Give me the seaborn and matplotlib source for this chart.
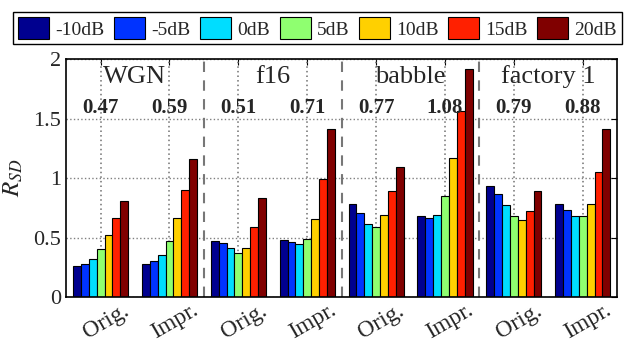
import pandas as pd
import matplotlib
matplotlib.use('Agg')
import matplotlib.pyplot as plt
import seaborn as sns

# Values
snr_levels = ['-10dB', '-5dB', '0dB', '5dB', '10dB', '15dB', '20dB']
noise_types = ['WGN', 'f16', 'babble', 'factory 1']
methods = ['Orig.', 'Impr.']

wgn_orig = [0.26, 0.28, 0.32, 0.40, 0.52, 0.665, 0.805]
wgn_impr = [0.28, 0.30, 0.35, 0.47, 0.66, 0.90, 1.16]
f16_orig = [0.47, 0.455, 0.41, 0.37, 0.415, 0.59, 0.83]
f16_impr = [0.48, 0.465, 0.445, 0.485, 0.655, 0.99, 1.415]
babble_orig = [0.785, 0.705, 0.61, 0.585, 0.69, 0.895, 1.09]
babble_impr = [0.685, 0.665, 0.69, 0.845, 1.165, 1.565, 1.92]
factory_orig = [0.935, 0.865, 0.77, 0.68, 0.65, 0.725, 0.89]
factory_impr = [0.78, 0.735, 0.685, 0.685, 0.785, 1.05, 1.415]

mean_labels = ['0.47', '0.59', '0.51', '0.71', '0.77', '1.08', '0.79', '0.88']

colors = ['#00008F', '#0033FF', '#00DDFF', '#8FFF70', '#FFD000', '#FF2000', '#800000']

series = [wgn_orig, wgn_impr, f16_orig, f16_impr,
          babble_orig, babble_impr, factory_orig, factory_impr]

rows = []
for i, vals in enumerate(series):
    cond = noise_types[i // 2] + ' ' + methods[i % 2]
    for snr, v in zip(snr_levels, vals):
        rows.append({'cond': cond, 'SNR': snr, 'RSD': v})
df = pd.DataFrame(rows)
conds = list(dict.fromkeys(df['cond']))

sns.set_theme(style='white')
plt.rcParams['font.family'] = ['Liberation Serif', 'DejaVu Serif']
plt.rcParams['mathtext.fontset'] = 'stix'

fig = plt.figure(figsize=(6.24, 3.47), dpi=100)
ax = fig.add_axes([0.106, 0.144, 0.883, 0.686])

sns.barplot(data=df, x='cond', y='RSD', hue='SNR', order=conds, hue_order=snr_levels,
            palette=colors, saturation=1, edgecolor='black', linewidth=0.8,
            width=0.8, ax=ax)

handles, labels = ax.get_legend_handles_labels()
ax.get_legend().remove()

ax.set_xlim(-0.5, 7.5)
ax.set_ylim(0, 2)
ax.set_yticks([0, 0.5, 1, 1.5, 2])
ax.set_yticklabels(['0', '0.5', '1', '1.5', '2'], fontsize=16)
ax.set_xticks(range(8))
ax.set_xticklabels([methods[i % 2] for i in range(8)], fontsize=17,
                   rotation=30, rotation_mode='anchor', ha='center', va='top')
ax.set_xlabel('')
ax.set_ylabel('$R_{SD}$', fontsize=18, labelpad=6)

ax.tick_params(axis='both', direction='in', length=4, top=True, right=True,
               width=0.8, color='black')
ax.tick_params(axis='x', pad=11)
for sp in ax.spines.values():
    sp.set_color('black')
    sp.set_linewidth(1.2)

# separators between noise types
for xs in [1.5, 3.5, 5.5]:
    ax.axvline(xs, color='#777777', linestyle=(0, (5, 4)), linewidth=1.5)

for k, name in enumerate(noise_types):
    ax.text(2 * k + 0.5, 1.85, name, ha='center', va='center', fontsize=19)

for i, lab in enumerate(mean_labels):
    ax.text(i, 1.59, lab, ha='center', va='center', fontsize=15, fontweight='bold')

fig.legend(handles, labels, loc='upper center', bbox_to_anchor=(0.509, 0.965), ncol=7,
           fontsize=14, frameon=True, fancybox=False, edgecolor='black', framealpha=1,
           handlelength=1.6, handleheight=1.4, handletextpad=0.3, columnspacing=0.5,
           borderpad=0.25, borderaxespad=0)

# dotted grid, matlab style (vertical lines at the category ticks)
ax.set_axisbelow(True)
ax.yaxis.grid(True, linestyle=':', color='#808080', linewidth=1.0)
for xt in ax.get_xticks():
    ax.axvline(xt, color='#707070', linestyle=(0, (1, 2)), linewidth=1.1, zorder=0.6)

fig.savefig('out.png', dpi=100)
